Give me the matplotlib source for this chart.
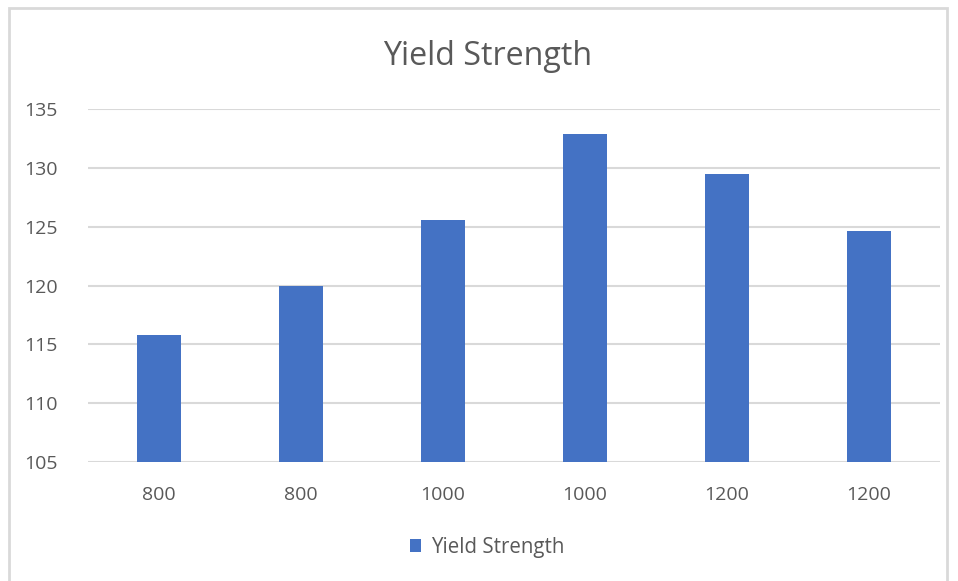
import matplotlib
matplotlib.use('Agg')
import matplotlib.pyplot as plt
from matplotlib.patches import Rectangle

# Chart data
categories = ['800', '800', '1000', '1000', '1200', '1200']
yield_strength = [115.8, 120.0, 125.6, 132.9, 129.5, 124.6]
y_ticks = [105, 110, 115, 120, 125, 130, 135]

plt.rcParams['font.family'] = ['Open Sans', 'DejaVu Sans']

fig = plt.figure(figsize=(9.58, 5.81), dpi=100)
fig.patch.set_facecolor('white')
ax = fig.add_axes([0.0919, 0.2048, 0.889, 0.6076])

# outer chart border (Excel chart area)
fig.patches.append(Rectangle((9 / 958, -0.05), (947 - 9) / 958, 1.05 - 8 / 581,
                             transform=fig.transFigure, fill=False,
                             edgecolor='#d9d9d9', linewidth=2))

x = list(range(len(categories)))
ax.bar(x, [v - 105 for v in yield_strength], bottom=105, width=0.31,
       color='#4472C4', label='Yield Strength', zorder=3)

ax.set_xlim(-0.5, len(categories) - 0.5)
ax.set_ylim(105, 135)
ax.set_yticks(y_ticks)
ax.set_xticks(x)
ax.set_xticklabels(categories)
ax.grid(axis='y', color='#d9d9d9', linewidth=1.5, zorder=0)
for s in ax.spines.values():
    s.set_visible(False)
ax.tick_params(length=0, colors='#595959', labelsize=14)
ax.tick_params(axis='x', pad=17)
ax.tick_params(axis='y', pad=22)

fig.text(0.509, 0.903, 'Yield Strength', ha='center', va='center',
         fontsize=23.2, color='#595959')

leg = fig.legend(loc='center', bbox_to_anchor=(0.5085, 0.058), frameon=False,
                 fontsize=14.8, handlelength=0.55, handleheight=0.55,
                 handletextpad=0.5, labelcolor='#595959')

plt.savefig('out.png', dpi=100, facecolor='white')
